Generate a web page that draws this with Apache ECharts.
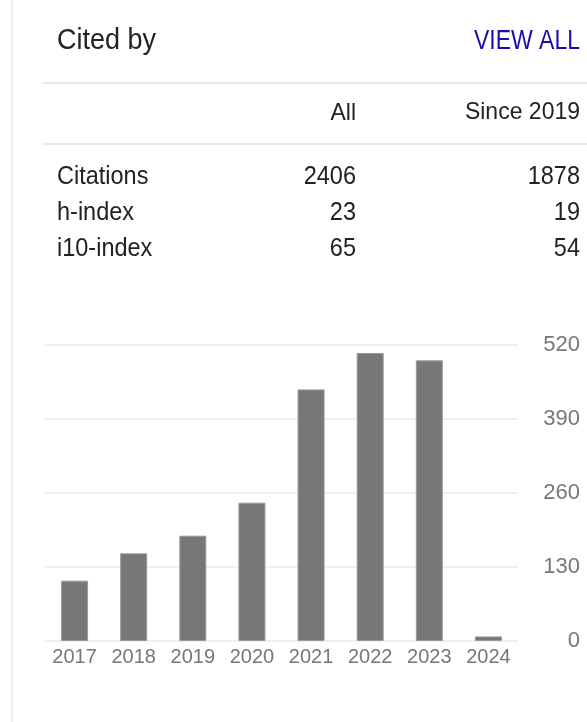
<!DOCTYPE html>
<html>
<head>
<meta charset="utf-8">
<title>Cited by</title>
<script src="https://cdn.jsdelivr.net/npm/echarts@6/dist/echarts.min.js"></script>
<style>
  html, body { margin: 0; padding: 0; background: #fff; }
  #main { width: 587px; height: 722px; }
</style>
</head>
<body>
<div id="main"></div>
<script>
// table data
var columnHeaders = ['All', 'Since 2019'];
var metricNames = ['Citations', 'h-index', 'i10-index'];
var allValues = [2406, 23, 65];
var sinceValues = [1878, 19, 54];

// citations per year
var years = ['2017', '2018', '2019', '2020', '2021', '2022', '2023', '2024'];
var citations = [106, 154, 185, 243, 442, 506, 493, 8];
var yTicks = [0, 130, 260, 390, 520];

var FONT = 'Arial, "Liberation Sans", sans-serif';
var chart = echarts.init(document.getElementById('main'), null, { renderer: 'canvas' });

function label(x, y, str, size, color, align, sy) {
  return {
    type: 'text',
    x: x,
    y: y,
    scaleY: sy || 1,
    style: {
      text: str,
      font: size + 'px ' + FONT,
      fill: color,
      align: align || 'left',
      verticalAlign: 'middle'
    }
  };
}

function hline(y) {
  return {
    type: 'line',
    shape: { x1: 42, y1: y, x2: 587, y2: y },
    style: { stroke: '#e2e2e2', lineWidth: 1.5 }
  };
}

var graphics = [
  {
    type: 'line',
    shape: { x1: 12, y1: 0, x2: 12, y2: 722 },
    style: { stroke: '#eeeeee', lineWidth: 2 }
  },
  label(57, 41, 'Cited by', 27, '#222', 'left', 1.1),
  label(580, 42, 'VIEW ALL', 23, '#1a0dab', 'right', 1.18),
  hline(83),
  label(356, 113, columnHeaders[0], 23, '#222', 'right', 1.06),
  label(580, 112, columnHeaders[1], 23, '#222', 'right', 1.06),
  hline(144)
];

var rowY = [177, 213, 249];
metricNames.forEach(function (name, i) {
  graphics.push(label(57, rowY[i], name, 23.5, '#222', 'left', 1.08));
  graphics.push(label(356, rowY[i], String(allValues[i]), 23.5, '#222', 'right', 1.08));
  graphics.push(label(580, rowY[i], String(sinceValues[i]), 23.5, '#222', 'right', 1.08));
});

var option = {
  animation: false,
  backgroundColor: '#fff',
  graphic: graphics,
  grid: {
    left: 45,
    right: 69,
    top: 345,
    bottom: 81
  },
  xAxis: {
    type: 'category',
    data: years,
    axisLine: { show: false },
    axisTick: { show: false },
    axisLabel: {
      margin: 6,
      color: '#777',
      fontSize: 20,
      fontFamily: FONT
    }
  },
  yAxis: {
    type: 'value',
    position: 'right',
    min: yTicks[0],
    max: yTicks[yTicks.length - 1],
    interval: yTicks[1] - yTicks[0],
    axisLine: { show: false },
    axisTick: { show: false },
    splitLine: {
      lineStyle: { color: '#ebebeb', width: 1.5 }
    },
    axisLabel: {
      align: 'right',
      margin: 62,
      color: '#777',
      fontSize: 22,
      fontFamily: FONT
    }
  },
  series: [{
    type: 'bar',
    data: citations,
    barWidth: 27,
    itemStyle: {
      color: '#777',
      borderColor: '#999',
      borderWidth: 1
    }
  }]
};

chart.setOption(option);
</script>
</body>
</html>
